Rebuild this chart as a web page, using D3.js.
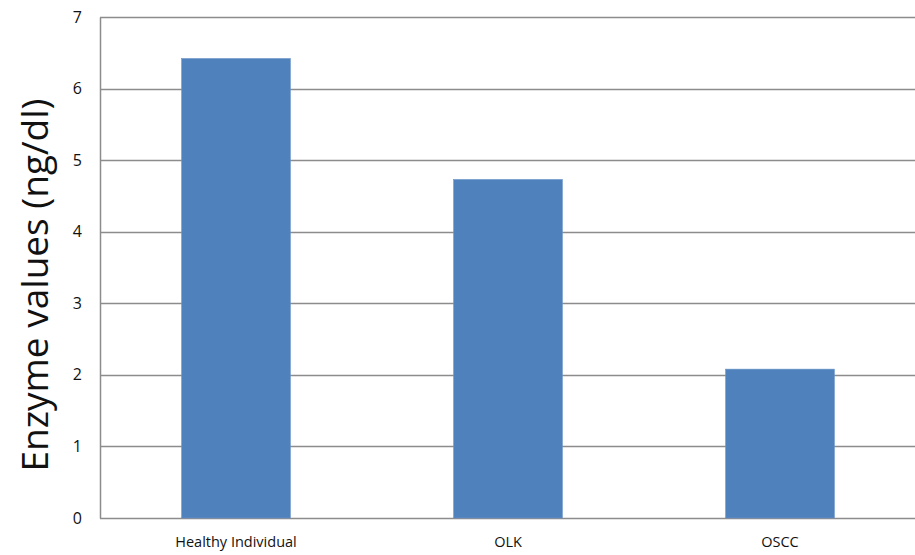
<!DOCTYPE html>
<html>
<head>
<meta charset="utf-8">
<script src="https://cdn.jsdelivr.net/npm/d3@7/dist/d3.min.js"></script>
<style>
  html, body { margin: 0; padding: 0; background: #fff; }
  svg { display: block; }
  svg text { font-family: "Open Sans", "Noto Sans", sans-serif; }
</style>
</head>
<body>
<svg id="chart" width="915" height="555"></svg>
<script>
// Mean enzyme values per group
const categories = ["Healthy Individual", "OLK", "OSCC"];
const values = [6.42, 4.73, 2.08];
const yTicks = [0, 1, 2, 3, 4, 5, 6, 7];
const yTitle = "Enzyme values (ng/dl)";

const W = 915, H = 555;
const margin = { top: 17, right: -1, bottom: 37, left: 100 };
const svg = d3.select("#chart");

const x = d3.scaleBand()
  .domain(categories)
  .range([margin.left, W - margin.right])
  .paddingInner(0.6)
  .paddingOuter(0.3);

const y = d3.scaleLinear()
  .domain([0, 7])
  .range([H - margin.bottom, margin.top]);

// Horizontal gridlines
svg.append("g")
  .selectAll("line")
  .data(yTicks)
  .join("line")
  .attr("x1", margin.left)
  .attr("x2", W - margin.right)
  .attr("y1", d => Math.round(y(d)) + 0.5)
  .attr("y2", d => Math.round(y(d)) + 0.5)
  .attr("stroke", "#8c8c8c")
  .attr("stroke-width", 1.5);

// Bars
svg.append("g")
  .selectAll("rect")
  .data(categories.map((c, i) => ({ c, v: values[i] })))
  .join("rect")
  .attr("x", d => x(d.c))
  .attr("width", x.bandwidth())
  .attr("y", d => y(d.v))
  .attr("height", d => y(0) - y(d.v))
  .attr("fill", "#4f81bd")
  .attr("stroke", "#6b95c8")
  .attr("stroke-width", 0.6);

// Y axis
const yAxis = svg.append("g")
  .attr("transform", `translate(${margin.left},0)`)
  .call(d3.axisLeft(y).tickValues(yTicks).tickFormat(d3.format("d")).tickSize(0).tickPadding(18));
yAxis.attr("font-family", null);
yAxis.select(".domain").attr("stroke", "#8c8c8c").attr("stroke-width", 1.5);
yAxis.selectAll("text").attr("font-size", 16).attr("fill", "#111");

// X axis labels
const xAxis = svg.append("g")
  .attr("transform", `translate(0,${y(0)})`)
  .call(d3.axisBottom(x).tickSize(0).tickPadding(19));
xAxis.attr("font-family", null);
xAxis.select(".domain").remove();
xAxis.selectAll("text").attr("font-size", 14.5).attr("fill", "#111");

// Y axis title
svg.append("text")
  .attr("transform", `translate(48,285) rotate(-90)`)
  .attr("text-anchor", "middle")
  .attr("font-size", 37)
  .attr("fill", "#111")
  .text(yTitle);
</script>
</body>
</html>
